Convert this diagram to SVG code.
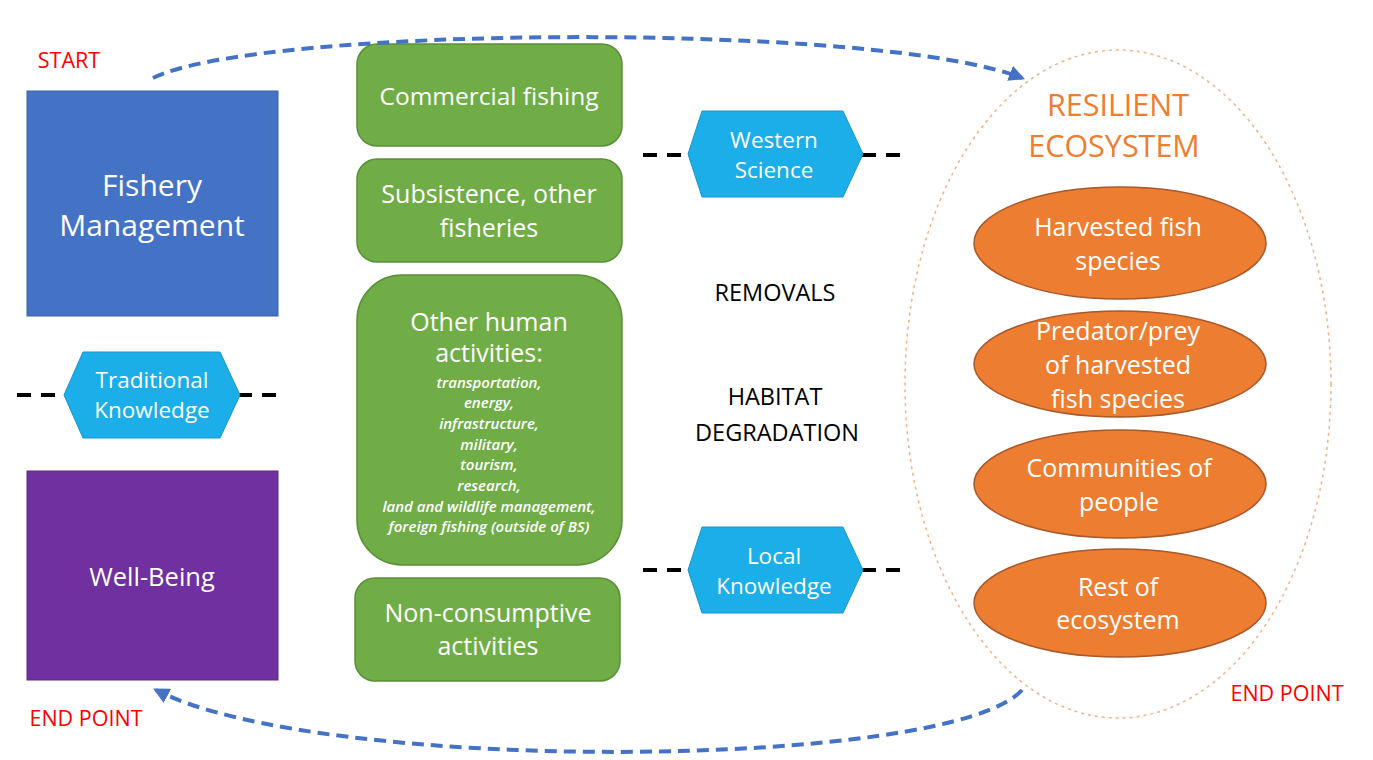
<svg xmlns="http://www.w3.org/2000/svg" width="1373" height="760" viewBox="0 0 1373 760">
<defs>
<style>
text{font-family:"Open Sans","Liberation Sans",sans-serif;text-anchor:middle}
.w{fill:#ffffff}
.g{fill:#70AD47;stroke:#5A8F3A;stroke-width:1.5}
.hex{fill:#1BAEE8;stroke:#1696C8;stroke-width:1}
.oe{fill:#ED7D31;stroke:#A8582A;stroke-width:1.5}
.red{fill:#FF0000;font-size:21.5px}
.blk{fill:#000;font-size:23.5px}
.it{font-size:15px;font-style:italic;font-weight:600;fill:#ffffff}
.conn{fill:none;stroke:#4472C4;stroke-width:4;stroke-dasharray:12 7}
.bd{stroke:#000;stroke-width:4;stroke-dasharray:14 10;fill:none}
</style>
<marker id="ah" viewBox="0 0 10 10" refX="8" refY="5" markerWidth="4" markerHeight="4" orient="auto" markerUnits="strokeWidth">
<path d="M0,0 L10,5 L0,10 z" fill="#4472C4"/>
</marker>
</defs>
<rect width="1373" height="760" fill="#ffffff"/>

<g id="labels">
<text class="red" x="69" y="68">START</text>
<text class="red" x="86" y="726">END POINT</text>
<text class="red" x="1287" y="701">END POINT</text>
<text class="blk" x="775" y="301">REMOVALS</text>
<text class="blk" x="775" y="405">HABITAT</text>
<text class="blk" x="777" y="441">DEGRADATION</text>
</g>

<g id="dividers">
<line class="bd" x1="17" y1="395" x2="68" y2="395"/>
<line class="bd" x1="238" y1="395" x2="278" y2="395"/>
<line class="bd" x1="643" y1="155" x2="690" y2="155"/>
<line class="bd" x1="862" y1="155" x2="905" y2="155"/>
<line class="bd" x1="643" y1="570" x2="690" y2="570"/>
<line class="bd" x1="862" y1="570" x2="905" y2="570"/>
</g>

<g id="fishery-management">
<rect x="27" y="91" width="251" height="225" fill="#4472C4" stroke="#3A63AE" stroke-width="1"/>
<text class="w" x="152" y="196" font-size="30">Fishery</text>
<text class="w" x="152" y="236" font-size="30">Management</text>
</g>

<g id="well-being">
<rect x="27" y="471" width="251" height="209" fill="#7030A0" stroke="#5E2886" stroke-width="1"/>
<text class="w" x="152" y="586" font-size="25.5">Well-Being</text>
</g>

<g id="traditional-knowledge">
<polygon class="hex" points="64,395 83,352 220,352 240,395 220,438 83,438"/>
<text class="w" x="152" y="388" font-size="22.5">Traditional</text>
<text class="w" x="152" y="418" font-size="22.5">Knowledge</text>
</g>

<g id="commercial-fishing">
<rect class="g" x="357" y="44" width="265" height="102" rx="20"/>
<text class="w" x="489" y="105" font-size="24.5">Commercial fishing</text>
</g>

<g id="subsistence">
<rect class="g" x="357" y="159" width="265" height="103" rx="20"/>
<text class="w" x="489" y="203" font-size="25">Subsistence, other</text>
<text class="w" x="489" y="237" font-size="25">fisheries</text>
</g>

<g id="other-human-activities">
<rect class="g" x="357" y="275" width="265" height="290" rx="45"/>
<text class="w" x="489" y="331" font-size="25">Other human</text>
<text class="w" x="489" y="362" font-size="25">activities:</text>
<text class="it" x="489" y="388">transportation,</text>
<text class="it" x="489" y="408">energy,</text>
<text class="it" x="489" y="429">infrastructure,</text>
<text class="it" x="489" y="450">military,</text>
<text class="it" x="489" y="470">tourism,</text>
<text class="it" x="489" y="491">research,</text>
<text class="it" x="489" y="512">land and wildlife management,</text>
<text class="it" x="489" y="532">foreign fishing (outside of BS)</text>
</g>

<g id="non-consumptive">
<rect class="g" x="355" y="578" width="265" height="103" rx="20"/>
<text class="w" x="488" y="622" font-size="25">Non-consumptive</text>
<text class="w" x="488" y="655" font-size="25">activities</text>
</g>

<g id="western-science">
<polygon class="hex" points="688,154 702,111 843,111 863,154 843,197 702,197"/>
<text class="w" x="774" y="148" font-size="22.5">Western</text>
<text class="w" x="774" y="178" font-size="22.5">Science</text>
</g>

<g id="local-knowledge">
<polygon class="hex" points="688,570 702,527 843,527 863,570 843,613 702,613"/>
<text class="w" x="774" y="564" font-size="22.5">Local</text>
<text class="w" x="774" y="594" font-size="22.5">Knowledge</text>
</g>

<g id="resilient-ecosystem">
<ellipse cx="1118" cy="384" rx="213" ry="334" fill="none" stroke="#F4B183" stroke-width="1.5" stroke-dasharray="3 4"/>
<text x="1118" y="116" font-size="30.5" fill="#ED7D31">RESILIENT</text>
<text x="1114" y="157" font-size="30.5" fill="#ED7D31">ECOSYSTEM</text>
</g>

<g id="harvested-fish">
<ellipse class="oe" cx="1120" cy="243" rx="146" ry="56"/>
<text class="w" x="1118" y="236" font-size="25">Harvested fish</text>
<text class="w" x="1118" y="270" font-size="25">species</text>
</g>

<g id="predator-prey">
<ellipse class="oe" cx="1120" cy="364" rx="146" ry="53"/>
<text class="w" x="1118" y="340" font-size="25">Predator/prey</text>
<text class="w" x="1118" y="374" font-size="25">of harvested</text>
<text class="w" x="1118" y="408" font-size="25">fish species</text>
</g>

<g id="communities">
<ellipse class="oe" cx="1120" cy="484" rx="146" ry="54"/>
<text class="w" x="1119" y="477" font-size="25">Communities of</text>
<text class="w" x="1119" y="511" font-size="25">people</text>
</g>

<g id="rest-of-ecosystem">
<ellipse class="oe" cx="1120" cy="603" rx="146" ry="54"/>
<text class="w" x="1118" y="596" font-size="25">Rest of</text>
<text class="w" x="1118" y="629" font-size="25">ecosystem</text>
</g>

<g id="connectors">
<path class="conn" d="M153,78 C 260,25 880,22 1022,78" marker-end="url(#ah)"/>
<path class="conn" d="M1022,690 C 950,770 320,775 156,690" marker-end="url(#ah)"/>
</g>
</svg>
